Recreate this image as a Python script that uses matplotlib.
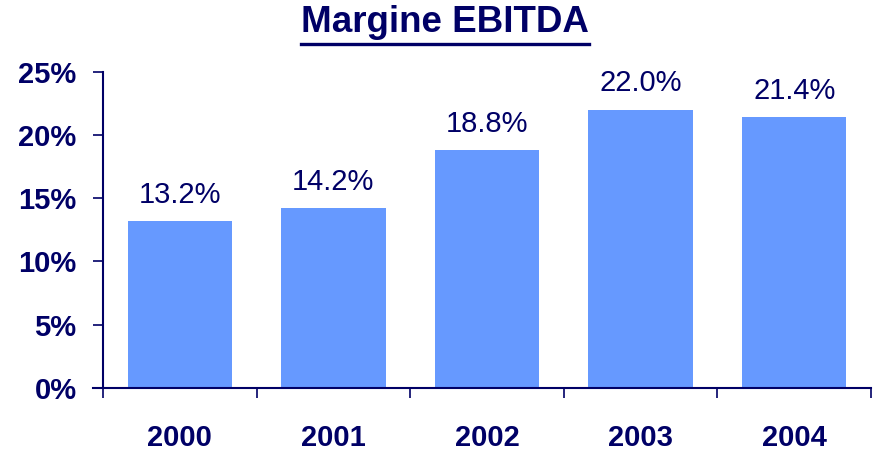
import matplotlib
matplotlib.use("Agg")
import matplotlib.pyplot as plt
from matplotlib.lines import Line2D
from matplotlib.ticker import FuncFormatter, FixedLocator

years = ["2000", "2001", "2002", "2003", "2004"]
margins = [13.2, 14.2, 18.8, 22.0, 21.4]
yticks = [0, 5, 10, 15, 20, 25]

navy = "#000066"
bar_color = "#6699FF"

plt.rcParams['font.family'] = ['Liberation Sans', 'DejaVu Sans']

fig = plt.figure(figsize=(8.78, 4.51), dpi=100)
W, H = 878, 451
ax = fig.add_axes([103 / W, 1 - 387.7 / H, (871 - 103) / W, (387.7 - 72) / H])

x = list(range(len(years)))
ax.bar(x, margins, width=0.68, color=bar_color, zorder=2)
ax.set_xlim(-0.5, len(years) - 0.5)
ax.set_ylim(0, 25)

for xi, v in zip(x, margins):
    ax.annotate(f"{v:.1f}%", (xi, v), xytext=(0, 9), textcoords="offset points",
                ha="center", va="bottom", fontsize=21, color=navy)

ax.yaxis.set_major_locator(FixedLocator(yticks))
ax.yaxis.set_major_formatter(FuncFormatter(lambda v, p: f"{v:.0f}%"))
ax.set_xticks(x)
ax.set_xticklabels(years)
ax.xaxis.set_minor_locator(FixedLocator([i - 0.5 for i in range(len(years) + 1)]))
ax.tick_params(axis="x", which="major", length=0, pad=26, labelsize=21, labelcolor=navy)
ax.tick_params(axis="x", which="minor", length=7, width=1.2, color=navy, direction="out")
ax.tick_params(axis="y", length=7, width=1.2, color=navy, labelsize=21, labelcolor=navy, pad=12)
for lab in ax.get_xticklabels() + ax.get_yticklabels():
    lab.set_fontweight("bold")

for s in ["top", "right"]:
    ax.spines[s].set_visible(False)
for s in ["left", "bottom"]:
    ax.spines[s].set_color(navy)
    ax.spines[s].set_linewidth(1.5)
ax.spines["bottom"].set_bounds(-0.565, len(years) - 0.5)

t = fig.text(0.5065, 1 - 22 / H, "Margine EBITDA", ha="center", va="center",
             fontsize=26.5, fontweight="bold", color=navy)
fig.canvas.draw()
bb = t.get_window_extent(renderer=fig.canvas.get_renderer())
uy = 1 - 43.5 / H
fig.add_artist(Line2D([bb.x0 / W, bb.x1 / W], [uy, uy], color=navy, lw=2.4,
                      transform=fig.transFigure))

fig.savefig("out.png", dpi=100)
